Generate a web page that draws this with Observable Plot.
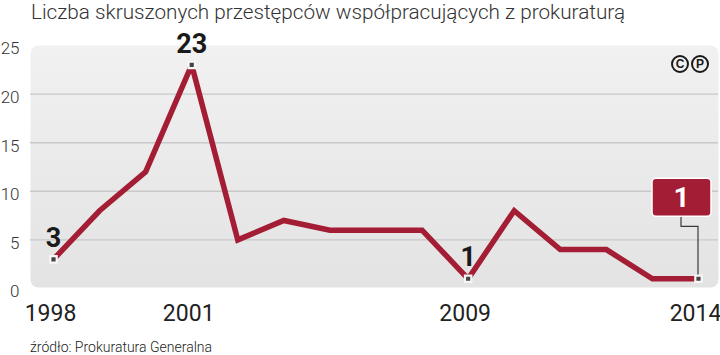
<!DOCTYPE html>
<html><head><meta charset="utf-8">
<script src="https://cdn.jsdelivr.net/npm/d3@7"></script>
<script src="https://cdn.jsdelivr.net/npm/@observablehq/plot@0.6"></script>
<style>
body{margin:0;background:#fff;}
#wrap{position:relative;width:720px;height:355px;overflow:hidden;font-family:Roboto,"Liberation Sans",sans-serif;}
#title{position:absolute;left:31px;top:-1px;font-size:21px;font-weight:300;color:#333;white-space:nowrap;transform-origin:0 0;line-height:26px;z-index:2;}
#chart{position:absolute;left:0;top:24px;}
#chart svg{background:transparent;}
#caption{position:absolute;left:30px;top:339px;font-size:14px;font-weight:300;color:#222;white-space:nowrap;transform-origin:0 0;line-height:17px;}
.cp{position:absolute;top:55px;width:14px;height:14px;border:2.5px solid #1a1a1a;border-radius:50%;font:bold 12px/14px "Liberation Sans",Arial,sans-serif;text-align:center;color:#1a1a1a;z-index:2;}
</style></head>
<body><div id="wrap">
<div id="chart"></div>
<div id="title">Liczba skruszonych przestępców współpracujących z prokuraturą</div>
<div class="cp" style="left:671px">C</div><div class="cp" style="left:691px">P</div>
<div id="caption">źródło: Prokuratura Generalna</div>
</div>
<script>
const values = [3, 8, 12, 23, 5, 7, 6, 6, 6, 1, 8, 4, 4, 1, 1];
const tickIndex = [0, 3, 9, 14];
const tickLabels = ["1998", "2001", "2009", "2014"];
const labeledIndex = [0, 3, 9];
const highlightIndex = [14];
const yTicks = [0, 5, 10, 15, 20, 25];
const gridValues = [5, 10, 15, 20];

const data = values.map((v, i) => ({i, v}));
const labeled = labeledIndex.map(i => data[i]);
const highlight = highlightIndex.map(i => data[i]);
const markers = labeled.concat(highlight);

const red = "#a31d34";

const callout = (index, scales) => {
  const g = d3.create("svg:g");
  for (const d of highlight) {
    const px = scales.x(d.i), py = scales.y(d.v);
    g.append("path")
      .attr("d", `M${px - 17},${py - 62}V${py - 52}H${px}V${py}`)
      .attr("fill", "none").attr("stroke", "#3a3a3a").attr("stroke-width", 1.2);
    g.append("rect")
      .attr("x", px - 46).attr("y", py - 100).attr("width", 59).attr("height", 38)
      .attr("rx", 4).attr("fill", red).attr("stroke", "#fff").attr("stroke-width", 1.5);
  }
  return g.node();
};

const plot = Plot.plot({
  width: 720, height: 306,
  marginTop: 21, marginBottom: 42, marginLeft: 53, marginRight: 22,
  style: {background: "transparent"},
  x: {domain: [0, 14], label: null},
  y: {domain: [0, 25], label: null},
  marks: [
    Plot.frame({fill: "url(#panelGrad)", stroke: "none", rx: 8, insetLeft: -23, insetRight: -20, insetBottom: 1}),
    Plot.ruleY(gridValues, {stroke: "#c8c8c8", strokeWidth: 1.4, insetLeft: -23, insetRight: -20}),
    Plot.axisY({ticks: yTicks, label: null, tickSize: 0, tickPadding: 34, fontSize: 17, fontWeight: 300, fontFamily: "Roboto, sans-serif", fill: "#333", dy: 3.5}),
    Plot.axisX({ticks: tickIndex, label: null, tickFormat: i => tickLabels[tickIndex.indexOf(i)], tickSize: 0, tickPadding: 16, dx: -3, fontSize: 23, fontFamily: "Roboto, sans-serif", fill: "#222"}),
    Plot.line(data, {x: "i", y: "v", stroke: red, strokeWidth: 5.5, strokeLinejoin: "miter", strokeMiterlimit: 3}),
    callout,
    Plot.dot(markers, {x: "i", y: "v", symbol: "square", r: 3.6, fill: "#444", stroke: "#f6f6f6", strokeWidth: 2.2}),
    Plot.text(labeled, {x: "i", y: "v", text: d => String(d.v), dy: -21, fontSize: 27, fontWeight: "bold", fontFamily: "Roboto, sans-serif", fill: "#1a1a1a", ariaLabel: "ann"}),
    Plot.text(highlight, {x: "i", y: "v", text: d => String(d.v), dx: -17, dy: -81, fontSize: 28, fontWeight: "bold", fontFamily: "Roboto, sans-serif", fill: "#fff", ariaLabel: "ann"})
  ]
});
const defs = d3.select(plot).insert("defs", ":first-child");
const grad = defs.append("linearGradient").attr("id", "panelGrad").attr("x1", 0).attr("y1", 0).attr("x2", 0).attr("y2", 1);
grad.append("stop").attr("offset", "0%").attr("stop-color", "#f1f1f1");
grad.append("stop").attr("offset", "100%").attr("stop-color", "#e3e3e3");
d3.select(plot).selectAll('g[aria-label="ann"] text').each(function() {
  const t = this.getAttribute("transform") || "";
  this.setAttribute("transform", t + " scale(0.78,1)");
});
document.getElementById("chart").appendChild(plot);

function fit(id, w) {
  const el = document.getElementById(id);
  const cw = el.getBoundingClientRect().width;
  el.style.transform = `scaleX(${w / cw})`;
}
fit("title", 594);
fit("caption", 182);
</script>
</body></html>
